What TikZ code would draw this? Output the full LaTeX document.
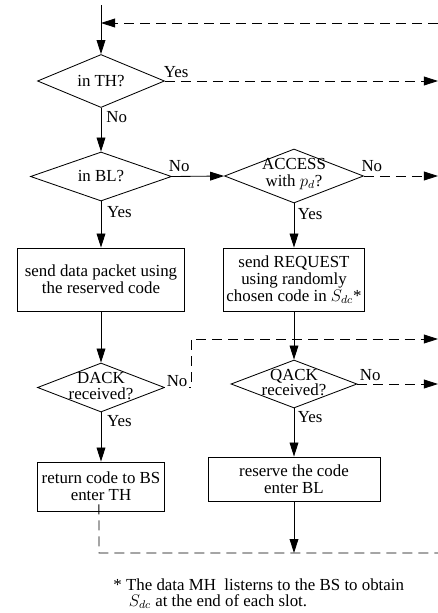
\documentclass[tikz,border=0pt]{standalone}
\usepackage{amsmath}
\usepackage{fontspec}
\setmainfont{Liberation Serif}
\usepackage{tikz}
\usetikzlibrary{shapes.geometric, arrows.meta}

\begin{document}
\begin{tikzpicture}[x=0.025cm, y=-0.025cm, line width=0.6pt,
    every node/.style={font=\fontsize{12}{12.1}\selectfont},
    flow/.style={-{Triangle[length=0.35cm,width=0.22cm]}},
    dashline/.style={dash pattern=on 0.25cm off 0.15cm},
    decision/.style={diamond, draw, inner sep=0pt},
    dtext/.style={align=center, inner sep=0pt},
    process/.style={rectangle, draw, align=center, inner sep=0pt},
    lbl/.style={inner sep=1pt}]
    \useasboundingbox (0,0) rectangle (438,613);
    % access protocol of a data MH, one slot
    \coordinate (start) at (101,5);
    \coordinate (ret) at (438,23);
    \coordinate (dbend) at (191,339);
    \coordinate (loop) at (99,553);

    \node[decision, minimum width=3.175cm, minimum height=1.325cm] (th) at (101,81) {};
    \node[dtext] (thtxt) at (th) {in TH?};
    \node[decision, minimum width=3.525cm, minimum height=1.225cm] (bl) at (101,176.5) {};
    \node[dtext] (bltxt) at (bl) {in BL?};
    \node[decision, minimum width=3.475cm, minimum height=1.35cm] (acc) at (294,176) {};
    \node[dtext] (acctxt) at (294,174) {ACCESS\\with $p_d$?};
    \node[process, minimum width=4.175cm, minimum height=1.575cm] (box1) at (101,279.5) {send data packet using\\the reserved code};
    \node[process, minimum width=3.525cm, minimum height=1.575cm] (box2) at (294,279.5) {send REQUEST\\using randomly\\chosen code in $S_{dc}$*};
    \node[decision, minimum width=3.175cm, minimum height=1.225cm] (dack) at (101,387.5) {};
    \node[dtext, font=\fontsize{12}{10.8}\selectfont] (dacktxt) at (101,386) {DACK\\received?};
    \node[decision, minimum width=3.15cm, minimum height=1.2cm] (qack) at (294,384) {};
    \node[dtext, font=\fontsize{12}{10.5}\selectfont] (qacktxt) at (294,382.5) {QACK\\received?};
    \node[process, minimum width=3.175cm, minimum height=1.225cm] (box3) at (101,486.5) {return code to BS\\enter TH};
    \node[process, minimum width=4.3cm, minimum height=1.1cm] (box4) at (294,479) {reserve the code\\enter BL};

    % solid flow
    \draw[flow] (start) -- (th.north);
    \draw[flow] (th.south) -- (bl.north);
    \draw[flow] (bl.east) -- (acc.west);
    \draw[flow] (bl.south) -- (box1.north);
    \draw[flow] (acc.south) -- (box2.north);
    \draw[flow] (box1.south) -- (dack.north);
    \draw[flow] (box2.south) -- (qack.north);
    \draw[flow] (dack.south) -- (box3.north);
    \draw[flow] (qack.south) -- (box4.north);
    \draw[flow] (box4.south) -- (box4.south |- loop);

    % dashed lines to and from the next slot
    \draw[flow, dashline] (ret) -- (ret -| start);
    \draw[flow, dashline] (th.east) -- (th.east -| ret);
    \draw[flow, dashline] (acc.east) -- (acc.east -| ret);
    \draw[flow, dashline] (dack.east) -| (dbend) -- (dbend -| ret);
    \draw[flow, dashline] (qack.east) -- (qack.east -| ret);
    \draw[dashline] ([xshift=-1.5pt,yshift=5pt]box3.south) -- (loop) -- (loop -| ret);

    % branch labels
    \node[lbl, anchor=south west] (thyes) at ([xshift=-2pt,yshift=1pt]th.east) {Yes};
    \node[lbl, anchor=north west] (thno) at ([xshift=2.5pt,yshift=-1pt]th.south) {No};
    \node[lbl, anchor=south west] (blno) at ([xshift=-3.5pt,yshift=2pt]bl.east) {No};
    \node[lbl, anchor=north west] (blyes) at ([xshift=3pt,yshift=-2pt]bl.south) {Yes};
    \node[lbl, anchor=south west] (accno) at ([xshift=-3pt,yshift=2pt]acc.east) {No};
    \node[lbl, anchor=north west] (accyes) at ([xshift=1.5pt,yshift=-2pt]acc.south) {Yes};
    \node[lbl, anchor=south west, fill=white] (dackno) at ([yshift=-1pt]dack.east) {No};
    \node[lbl, anchor=north west] (dackyes) at ([xshift=3pt,yshift=-1pt]dack.south) {Yes};
    \node[lbl, anchor=south west] (qackno) at ([xshift=0.5pt,yshift=1pt]qack.east) {No};
    \node[lbl, anchor=north west] (qackyes) at ([xshift=1.5pt,yshift=-1pt]qack.south) {Yes};

    \node[anchor=north west, align=left, inner sep=0pt, font=\fontsize{12}{11.4}\selectfont] (note) at (113,578)
      {* The data MH\ \ listerns to the BS to obtain\\\hspace*{11pt}$S_{dc}$ at the end of each slot.};
\end{tikzpicture}
\end{document}
